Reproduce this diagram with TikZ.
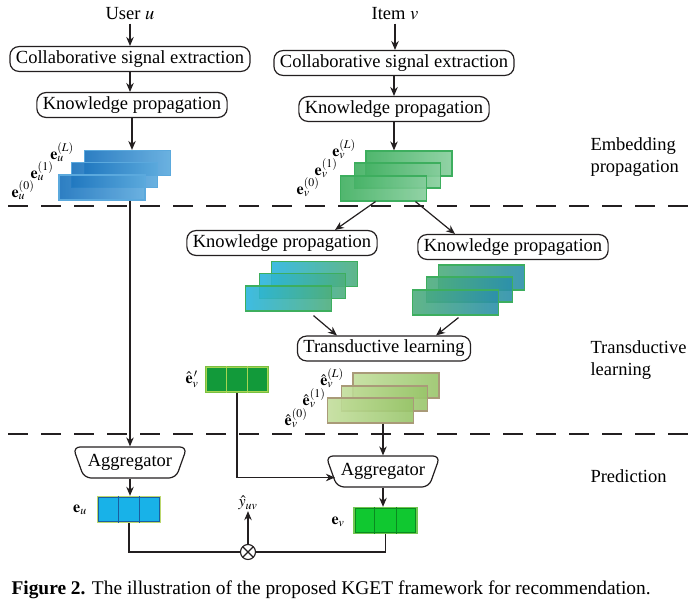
\documentclass[tikz,border=0pt]{standalone}
\usepackage{mathptmx}
\usepackage{amsmath}
\usepackage{fontspec}
\setmainfont{Liberation Serif}
\usepackage{xcolor}
\usepackage{tikz}
\usetikzlibrary{arrows.meta,positioning,calc,shapes.geometric}

\definecolor{inkblack}{HTML}{231F20}
\definecolor{userdark}{HTML}{1670BC}
\definecolor{userlight}{HTML}{5BA9DD}
\definecolor{itemdark}{HTML}{3DAE5E}
\definecolor{itemlight}{HTML}{86CE9C}
\definecolor{cyanleft}{HTML}{29B5DE}
\definecolor{greenright}{HTML}{4FAE7C}
\definecolor{tealright}{HTML}{2A8FAB}
\definecolor{hatleft}{HTML}{C3DE9C}
\definecolor{hatright}{HTML}{98C56A}
\definecolor{hatborder}{HTML}{A99A78}
\definecolor{limeedge}{HTML}{BCD86E}
\definecolor{eufill}{HTML}{18B2E8}
\definecolor{euline}{HTML}{1A5EA0}
\definecolor{evpfill}{HTML}{129A3A}
\definecolor{evpedge}{HTML}{7AC040}
\definecolor{evpline}{HTML}{A6D452}
\definecolor{evfill}{HTML}{10C830}
\definecolor{evedge}{HTML}{72C852}
\definecolor{evline}{HTML}{0A8A20}

\begin{document}
\begin{tikzpicture}[x=1pt, y=-1pt, >={Stealth[length=9pt,width=7.5pt]},
  font=\fontsize{18.5}{22}\selectfont,
  box/.style={draw=inkblack, line width=1.2pt, rounded corners=9pt, inner xsep=6pt, inner ysep=4pt},
  arr/.style={->, draw=inkblack, line width=1.2pt},
  wire/.style={draw=inkblack, line width=1.2pt},
  sep/.style={draw=inkblack, line width=1.2pt, dash pattern=on 20pt off 13pt},
  layer/.style={draw=#1, line width=1.2pt, minimum width=86pt, minimum height=25pt, inner sep=0pt, fill opacity=0.9},
  agg/.style={draw=inkblack, line width=1.2pt, trapezium, shape border rotate=180, trapezium angle=58,
    trapezium stretches=true, minimum width=114pt, minimum height=31pt, inner sep=0pt, rounded corners=7pt},
  cellbox/.style={draw=#1, line width=2.4pt, minimum width=62pt, minimum height=25pt, inner sep=0pt},
  lab/.style={inner sep=0pt, font=\fontsize{16}{18}\selectfont}]
\useasboundingbox (0,0) rectangle (688,607);

% user branch
\node (user) at (130,14) {User $u$};
\node[box] (cse1) at (130,59) {Collaborative signal extraction};
\node[box] (kp1) at (132,105) {Knowledge propagation};
\node[layer=userlight, left color=userdark, right color=userlight] (u2) at (127.5,163) {};
\node[layer=userlight, left color=userdark, right color=userlight] (u1) at (114.5,175) {};
\node[layer=userlight, left color=userdark, right color=userlight] (u0) at (102,187.5) {};
\node[lab] (lu2) at (62,152) {$\mathbf{e}_u^{(L)}$};
\node[lab] (lu1) at (42,171) {$\mathbf{e}_u^{(1)}$};
\node[lab] (lu0) at (23,190) {$\mathbf{e}_u^{(0)}$};
\draw[arr] (user) -- (cse1);
\draw[arr] (cse1) -- (cse1.south |- kp1.north);
\draw[arr] (kp1) -- (kp1.south |- u2.north);

% item branch
\node (item) at (395,14) {Item $v$};
\node[box] (cse2) at (394,63) {Collaborative signal extraction};
\node[box] (kp2) at (394,109) {Knowledge propagation};
\node[layer=itemdark, left color=itemdark, right color=itemlight] (v2) at (409,163.5) {};
\node[layer=itemdark, left color=itemdark, right color=itemlight] (v1) at (397.5,175.5) {};
\node[layer=itemdark, left color=itemdark, right color=itemlight] (v0) at (383.5,188.5) {};
\node[lab] (lv2) at (344,149) {$\mathbf{e}_v^{(L)}$};
\node[lab] (lv1) at (326,168) {$\mathbf{e}_v^{(1)}$};
\node[lab] (lv0) at (308,187) {$\mathbf{e}_v^{(0)}$};
\draw[arr] (item) -- (item.south |- cse2.north);
\draw[arr] (cse2) -- (kp2);
\draw[arr] (kp2) -- (kp2.south |- v2.north);

% stage labels
\node[anchor=west, align=left] (stage1) at (587,157) {Embedding\\propagation};
\node[anchor=west, align=left] (stage2) at (587,360) {Transductive\\learning};
\node[anchor=west] (stage3) at (587,476) {Prediction};

\draw[sep] (8,206) -- (688,206);

% transductive part
\node[box] (kp3) at (282,243) {Knowledge propagation};
\node[box] (kp4) at (513,247) {Knowledge propagation};
\draw[arr] ([xshift=-8pt]v0.south) -- ([xshift=53pt]kp3.north);
\draw[arr] ([xshift=32pt]v0.south) -- ([xshift=-58pt]kp4.north);

\node[layer=itemdark, left color=cyanleft, right color=greenright] (a2) at (314.5,274) {};
\node[layer=itemdark, left color=cyanleft, right color=greenright] (a1) at (302.5,286) {};
\node[layer=itemdark, left color=cyanleft, right color=greenright] (a0) at (288.5,298.5) {};
\node[layer=itemdark, left color=greenright, right color=tealright] (b2) at (481.5,277.5) {};
\node[layer=itemdark, left color=greenright, right color=tealright] (b1) at (469.5,289.5) {};
\node[layer=itemdark, left color=greenright, right color=tealright] (b0) at (455.5,302.5) {};

\node[box] (tl) at (384,348.5) {Transductive learning};
\draw[arr] ([xshift=25pt,yshift=-4pt]a0.south) -- ([xshift=-47pt]tl.north);
\draw[arr] ([xshift=3pt,yshift=-2pt]b0.south) -- ([xshift=52pt]tl.north);

\node[cellbox=evpedge, fill=evpfill] (evp) at (237,379.5) {};
\node[lab] (levp) at (192,379) {$\hat{\mathbf{e}}_v^{\,\prime}$};

\node[layer=hatborder, left color=hatleft, right color=hatright] (h2) at (396,385.5) {};
\node[layer=hatborder, left color=hatleft, right color=hatright] (h1) at (384.5,398.5) {};
\node[layer=hatborder, left color=hatleft, right color=hatright] (h0) at (370.5,410.5) {};
\node[lab] (lh2) at (332,378) {$\hat{\mathbf{e}}_v^{(L)}$};
\node[lab] (lh1) at (314,398) {$\hat{\mathbf{e}}_v^{(1)}$};
\node[lab] (lh0) at (296,418) {$\hat{\mathbf{e}}_v^{(0)}$};

\draw[sep] (8,434) -- (688,434);

% prediction
\node[agg] (agg1) at (130,462.5) {Aggregator};
\node[agg] (agg2) at (383,471.5) {Aggregator};
\draw[arr] (agg1.north |- u0.south) -- (agg1.north);
\draw[arr] (agg2.north |- h0.south) -- (agg2.north);
\draw[arr] (evp.south) |- ([xshift=4pt,yshift=-6pt]agg2.west);

\node[cellbox=limeedge, fill=eufill] (eu) at (129,509.5) {};
\node[cellbox=evedge, fill=evfill] (ev) at (385.5,520.5) {};
\node[lab] (leu) at (80,510) {$\mathbf{e}_u$};
\node[lab] (lev) at (338,522) {$\mathbf{e}_v$};
\draw[arr] (agg1.south) -- (agg1.south |- eu.north);
\draw[arr] (agg2.south) -- (agg2.south |- ev.north);

% cell dividers
\draw[line width=1pt, draw=euline] ([shift={(2pt,-2pt)}]eu.north west) rectangle ([shift={(-2pt,2pt)}]eu.south east);
\draw[line width=1pt, draw=evpline] ([shift={(2pt,-2pt)}]evp.north west) rectangle ([shift={(-2pt,2pt)}]evp.south east);
\draw[line width=1pt, draw=evline] ([shift={(2pt,-2pt)}]ev.north west) rectangle ([shift={(-2pt,2pt)}]ev.south east);
\foreach \k in {1,2} {
  \draw[line width=1pt, draw=euline] ($(eu.north west)!\k/3!(eu.north east)$) -- ($(eu.south west)!\k/3!(eu.south east)$);
  \draw[line width=1pt, draw=evpline] ($(evp.north west)!\k/3!(evp.north east)$) -- ($(evp.south west)!\k/3!(evp.south east)$);
  \draw[line width=1pt, draw=evline] ($(ev.north west)!\k/3!(ev.north east)$) -- ($(ev.south west)!\k/3!(ev.south east)$);
}

\node[circle, draw=inkblack, line width=1.1pt, minimum size=15pt, inner sep=0pt,
  path picture={\draw[line width=1.1pt, draw=inkblack] (path picture bounding box.north west) -- (path picture bounding box.south east)
    (path picture bounding box.north east) -- (path picture bounding box.south west);}] (mul) at (248,552) {};
\node[lab, inner sep=1pt] (yuv) at (248,503) {$\hat{y}_{uv}$};
\draw[wire] (eu.south) |- (mul.west);
\draw[wire] (ev.south) |- (mul.east);
\draw[arr] (mul) -- (yuv);

% caption
\node[anchor=west, font=\fontsize{19.4}{23}\selectfont] (cap) at (8,590) {\textbf{Figure 2.} The illustration of the proposed KGET framework for recommendation.};
\end{tikzpicture}
\end{document}
